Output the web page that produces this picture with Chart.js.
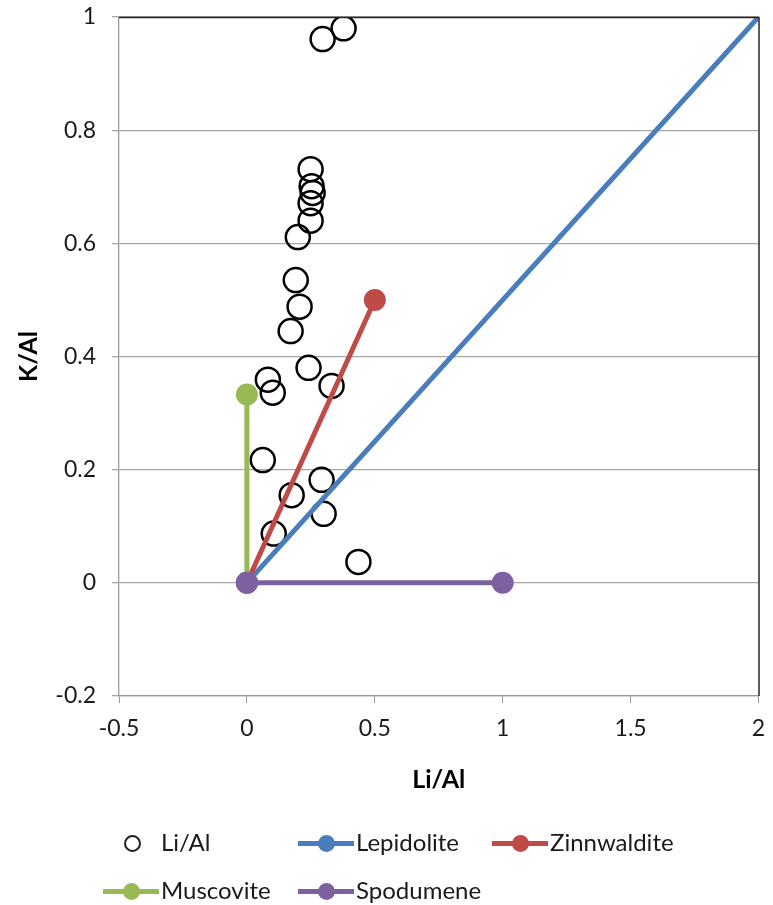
<!DOCTYPE html>
<html><head><meta charset="utf-8">
<script src="https://cdn.jsdelivr.net/npm/chart.js@4.4.0/dist/chart.umd.min.js"></script>
<style>
html,body{margin:0;padding:0;background:#fff;overflow:hidden;}
#wrap{position:relative;width:773px;height:905px;}
canvas{display:block;}
#legend{position:absolute;left:0;top:0;width:773px;height:905px;pointer-events:none;font-family:Lato,"Noto Sans",sans-serif;font-size:24px;color:#1a1a1a;}
.ln{position:absolute;height:5px;}
.mk{position:absolute;width:17px;height:17px;border-radius:50%;}
.tx{position:absolute;line-height:30px;white-space:nowrap;}
</style></head>
<body><div id="wrap"><canvas id="c" width="773" height="905"></canvas><div id="legend"></div></div>
<script>
const seriesNames = ["Li/Al","Lepidolite","Zinnwaldite","Muscovite","Spodumene"];
const seriesColors = ["#000000","#4a7ebb","#be4b48","#98b954","#7d60a0"];
const liAlX = [0.378,0.296,0.249,0.253,0.257,0.249,0.249,0.199,0.191,0.206,0.171,0.241,0.331,0.082,0.101,0.062,0.292,0.175,0.300,0.105,0.436];
const kAlY  = [0.980,0.961,0.731,0.701,0.689,0.671,0.640,0.611,0.535,0.488,0.445,0.380,0.348,0.359,0.336,0.217,0.182,0.155,0.122,0.087,0.037];
const lepidoliteX = [0,2], lepidoliteY = [0,1];
const zinnwalditeX = [0,0.5], zinnwalditeY = [0,0.5];
const muscoviteX = [0,0], muscoviteY = [0,0.333];
const spodumeneX = [0,1], spodumeneY = [0,0];
const xTicks = [-0.5,0,0.5,1,1.5,2];
const xTickLabels = ["-0.5","0","0.5","1","1.5","2"];
const yTicks = [-0.2,0,0.2,0.4,0.6,0.8,1];
const yTickLabels = ["-0.2","0","0.2","0.4","0.6","0.8","1"];

const pts = (xs,ys)=>xs.map((x,i)=>({x:x,y:ys[i]}));
const FONT = "Lato, 'Noto Sans', sans-serif";

const lineDs = (i, xs, ys, radii, order)=>({
  label: seriesNames[i], data: pts(xs,ys), showLine:true,
  borderColor: seriesColors[i], backgroundColor: seriesColors[i],
  borderWidth: 5, pointRadius: radii, pointHoverRadius: radii,
  pointBorderWidth: 0, order: order, clip: 0
});

const frame = {
  id:'frame',
  afterDatasetsDraw(chart){
    const a = chart.chartArea, ctx = chart.ctx;
    ctx.save();
    ctx.strokeStyle = '#262626'; ctx.lineWidth = 1.5;
    ctx.beginPath();
    ctx.moveTo(a.left, a.top+0.5); ctx.lineTo(a.right+0.5, a.top+0.5); ctx.lineTo(a.right+0.5, a.bottom);
    ctx.stroke();
    ctx.restore();
  }
};

new Chart(document.getElementById('c'), {
  type: 'scatter',
  data: { datasets: [
    { label: seriesNames[0], data: pts(liAlX,kAlY), showLine:false,
      borderColor:'#000', backgroundColor:'rgba(0,0,0,0)', borderWidth:2.5,
      pointRadius:12, pointHoverRadius:12, order:4 },
    lineDs(1, lepidoliteX, lepidoliteY, [11,0], 3),
    lineDs(2, zinnwalditeX, zinnwalditeY, 11, 2),
    lineDs(3, muscoviteX, muscoviteY, 11, 1),
    lineDs(4, spodumeneX, spodumeneY, 11, 0)
  ]},
  options: {
    responsive:false, animation:false, devicePixelRatio:1,
    layout:{padding:{left:0,right:9,top:17,bottom:105}},
    plugins:{legend:{display:false}, tooltip:{enabled:false}},
    scales:{
      x:{ type:'linear', min:-0.5, max:2,
        afterBuildTicks(s){ s.ticks = xTicks.map(v=>({value:v})); },
        afterFit(s){ s.height = 104; s.paddingLeft = 0; s.paddingRight = 0; },
        ticks:{ callback:(v)=>xTickLabels[xTicks.indexOf(v)], color:'#1a1a1a', font:{family:FONT,size:23}, padding:12, maxRotation:0 },
        grid:{ drawOnChartArea:false, drawTicks:true, tickLength:7, color:'#999' },
        border:{ color:'#999', width:1.3 },
        title:{ display:true, text:'Li/Al', color:'#000', font:{family:FONT,size:25,weight:'bold'}, padding:{top:0,bottom:5} }
      },
      y:{ type:'linear', min:-0.2, max:1,
        afterBuildTicks(s){ s.ticks = yTicks.map(v=>({value:v})); },
        afterFit(s){ s.width = 119; s.paddingTop = 0; s.paddingBottom = 0; },
        ticks:{ callback:(v)=>yTickLabels[yTicks.indexOf(v)], color:'#1a1a1a', font:{family:FONT,size:23}, padding:16 },
        grid:{ drawOnChartArea:true, drawTicks:true, tickLength:7, color:'#a6a6a6', lineWidth:1.3 },
        border:{ color:'#999', width:1.3 },
        title:{ display:true, text:'K/Al', color:'#000', font:{family:FONT,size:25,weight:'bold'}, padding:{top:14,bottom:0} }
      }
    }
  },
  plugins:[frame]
});

// legend
const legendItems = [
  {i:0, cx:132, cy:843, tx:161},
  {i:1, x1:298, x2:354, cy:843, tx:356},
  {i:2, x1:492, x2:548, cy:843, tx:550},
  {i:3, x1:103, x2:159, cy:891, tx:161},
  {i:4, x1:298, x2:354, cy:891, tx:356}
];
const L = document.getElementById('legend');
legendItems.forEach(it=>{
  const c = seriesColors[it.i];
  if (it.i===0){
    const m = document.createElement('div'); m.className='mk';
    m.style.cssText = `left:${it.cx-8.5}px;top:${it.cy-8.5}px;width:13px;height:13px;border:2px solid #222;background:transparent;`;
    L.appendChild(m);
  } else {
    const l = document.createElement('div'); l.className='ln';
    l.style.cssText = `left:${it.x1}px;top:${it.cy-2.5}px;width:${it.x2-it.x1}px;background:${c};`;
    L.appendChild(l);
    const m = document.createElement('div'); m.className='mk';
    const mx = (it.x1+it.x2)/2;
    m.style.cssText = `left:${mx-8.5}px;top:${it.cy-8.5}px;background:${c};`;
    L.appendChild(m);
  }
  const t = document.createElement('div'); t.className='tx';
  t.textContent = seriesNames[it.i];
  t.style.cssText = `left:${it.tx}px;top:${it.cy-16}px;`;
  L.appendChild(t);
});
</script></body></html>
